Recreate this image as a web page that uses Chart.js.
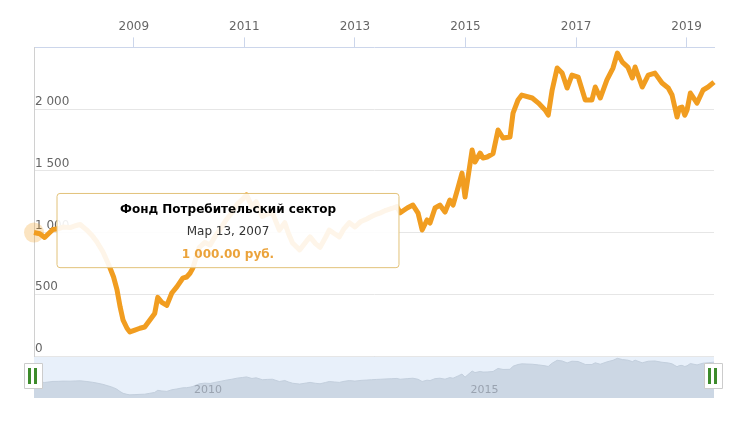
<!DOCTYPE html>
<html>
<head>
<meta charset="utf-8">
<script src="https://cdn.jsdelivr.net/npm/chart.js@4.4.1/dist/chart.umd.min.js"></script>
<style>
  html, body { margin: 0; padding: 0; background: #fff; }
  #wrap { position: relative; width: 750px; height: 425px; }
  #wrap canvas { position: absolute; left: 0; top: 0; }
</style>
</head>
<body>
<div id="wrap">
  <canvas id="nav" width="750" height="425"></canvas>
  <canvas id="main" width="750" height="425"></canvas>
</div>
<script>
const seriesName = 'Фонд Потребительский сектор';

const dates = [
  '2007-03-13', '2007-04-20', '2007-05-22', '2007-06-25', '2007-07-16', '2007-08-20', '2007-09-21', '2007-11-07',
  '2007-12-10', '2008-01-12', '2008-02-25', '2008-04-01', '2008-05-01', '2008-06-10', '2008-07-13', '2008-07-27',
  '2008-08-20', '2008-09-12', '2008-10-02', '2008-10-22', '2008-11-17', '2008-12-06', '2009-01-08', '2009-02-10',
  '2009-03-14', '2009-04-16', '2009-05-19', '2009-06-08', '2009-07-05', '2009-08-07', '2009-09-09', '2009-10-12',
  '2009-11-20', '2009-12-16', '2010-01-07', '2010-01-26', '2010-03-10', '2010-04-15', '2010-05-20', '2010-06-20',
  '2010-08-01', '2010-09-01', '2010-10-10', '2010-11-15', '2010-12-20', '2011-01-15', '2011-02-20', '2011-03-20',
  '2011-04-30', '2011-06-01', '2011-07-05', '2011-08-20', '2011-09-25', '2011-10-20', '2011-11-15', '2012-01-01',
  '2012-02-15', '2012-03-10', '2012-04-15', '2012-05-15', '2012-06-20', '2012-07-15', '2012-08-20', '2012-09-20',
  '2012-10-20', '2012-11-25', '2013-01-01', '2013-02-10', '2013-03-20', '2013-04-20', '2013-05-25', '2013-06-20',
  '2013-07-25', '2013-09-01', '2013-10-05', '2013-10-27', '2013-12-12', '2014-01-19', '2014-02-22', '2014-03-21',
  '2014-04-22', '2014-05-12', '2014-06-14', '2014-07-16', '2014-08-19', '2014-09-20', '2014-10-11', '2014-11-14',
  '2014-12-09', '2014-12-29', '2015-01-12', '2015-02-14', '2015-03-05', '2015-04-08', '2015-04-27', '2015-05-24',
  '2015-07-02', '2015-08-04', '2015-09-06', '2015-10-22', '2015-11-11', '2015-12-14', '2016-01-08', '2016-03-17',
  '2016-04-27', '2016-06-10', '2016-07-01', '2016-07-27', '2016-08-29', '2016-10-01', '2016-11-03', '2016-12-05',
  '2017-01-15', '2017-03-03', '2017-04-16', '2017-05-08', '2017-06-10', '2017-07-24', '2017-09-02', '2017-10-01',
  '2017-11-03', '2017-12-09', '2018-01-08', '2018-01-26', '2018-03-14', '2018-04-23', '2018-06-06', '2018-07-23',
  '2018-09-02', '2018-09-27', '2018-10-30', '2018-11-15', '2018-12-02', '2018-12-20', '2019-01-04', '2019-01-26',
  '2019-03-11', '2019-04-20', '2019-05-23', '2019-07-01'
];

const values = [
  1000, 990, 960, 1000, 1025, 1030, 1045, 1040,
  1055, 1065, 1020, 975, 925, 845, 755, 715,
  640, 535, 400, 290, 225, 195, 210, 225,
  235, 290, 345, 475, 435, 410, 510, 560,
  630, 640, 670, 712, 880, 920, 900, 965,
  1040, 1100, 1160, 1230, 1270, 1305, 1210, 1250,
  1130, 1150, 1160, 1020, 1080, 990, 915, 860,
  930, 965, 910, 880, 960, 1020, 990, 965,
  1030, 1080, 1045, 1090, 1110, 1130, 1150, 1160,
  1180, 1195, 1210, 1160, 1199, 1223, 1158, 1021,
  1102, 1077, 1199, 1223, 1166, 1264, 1223, 1369,
  1482, 1288, 1401, 1669, 1571, 1644, 1604, 1612,
  1640, 1831, 1766, 1774, 1968, 2074, 2114, 2090,
  2049, 1993, 1952, 2155, 2333, 2292, 2171, 2276,
  2260, 2074, 2074, 2179, 2090, 2236, 2333, 2454,
  2381, 2341, 2252, 2341, 2179, 2276, 2292, 2211,
  2171, 2114, 1936, 2010, 2017, 1950, 1993, 2130,
  2049, 2155, 2179, 2219
];

const yearTicks = [2009, 2011, 2013, 2015, 2017, 2019];
const navTicks = [2010, 2015];
const valueTicks = [0, 500, 1000, 1500, 2000];
const ruMonths = ['Янв', 'Фев', 'Мар', 'Апр', 'Май', 'Июн', 'Июл', 'Авг', 'Сен', 'Окт', 'Ноя', 'Дек'];

const lineColor = '#f19d20';
const font = 'DejaVu Sans';

function toYear(s) {
  const [y, m, d] = s.split('-').map(Number);
  const start = Date.UTC(y, 0, 1);
  const end = Date.UTC(y + 1, 0, 1);
  return y + (Date.UTC(y, m - 1, d) - start) / (end - start);
}

function spaced(n) {
  return String(n).replace(/\B(?=(\d{3})+(?!\d))/g, ' ');
}

function formatDate(s) {
  const [y, m, d] = s.split('-').map(Number);
  return ruMonths[m - 1] + ' ' + d + ', ' + y;
}

function formatMoney(v) {
  const parts = v.toFixed(2).split('.');
  return spaced(parts[0]) + '.' + parts[1] + ' руб.';
}

const points = dates.map((d, i) => ({ x: toYear(d), y: values[i] }));
const xMin = points[0].x;
const xMax = points[points.length - 1].x;

// tooltip sits to the right of the hovered point, like the original
Chart.Tooltip.positioners.beside = function (items) {
  if (!items.length) return false;
  const el = items[0].element;
  return { x: el.x + 23, y: el.y - 2 };
};

const mainChart = new Chart(document.getElementById('main'), {
  type: 'line',
  data: {
    datasets: [{
      label: seriesName,
      data: points,
      borderColor: lineColor,
      borderWidth: 5,
      borderJoinStyle: 'round',
      pointRadius: 0,
      pointHoverRadius: 10,
      pointHoverBorderWidth: 0,
      pointHoverBackgroundColor: 'rgba(241,157,32,0.28)',
      tension: 0,
      clip: false
    }]
  },
  options: {
    responsive: false,
    animation: false,
    events: [],
    layout: { padding: { left: 32, right: 36, top: 17, bottom: 69 } },
    scales: {
      x: {
        type: 'linear',
        position: 'top',
        min: xMin,
        max: xMax,
        afterBuildTicks: s => { s.ticks = yearTicks.map(v => ({ value: v })); },
        grid: { drawOnChartArea: false, drawTicks: true, tickLength: 10, color: '#ccd6eb' },
        border: { color: '#ccd6eb' },
        ticks: {
          color: '#666', padding: 3, maxRotation: 0, autoSkip: false,
          font: { family: font, size: 12 },
          callback: v => String(v)
        }
      },
      y: {
        min: 0,
        max: 2500,
        afterBuildTicks: s => { s.ticks = valueTicks.map(v => ({ value: v })); },
        grid: { color: '#e6e6e6', drawTicks: false },
        border: { color: '#d0d0d0' },
        ticks: {
          mirror: true, padding: 1, labelOffset: -7, color: '#666',
          font: { family: font, size: 12 },
          callback: v => spaced(v)
        }
      }
    },
    plugins: {
      legend: { display: false },
      tooltip: {
        position: 'beside',
        xAlign: 'left',
        yAlign: 'center',
        caretSize: 0,
        caretPadding: 0,
        backgroundColor: 'rgba(255,255,255,0.9)',
        borderColor: '#e2c27a',
        borderWidth: 1,
        cornerRadius: 3,
        displayColors: false,
        padding: { top: 9, bottom: 6, left: 63, right: 63 },
        titleAlign: 'center',
        bodyAlign: 'center',
        footerAlign: 'center',
        titleColor: '#000',
        bodyColor: '#333',
        footerColor: '#eba33b',
        titleFont: { family: font, size: 12, weight: 'bold' },
        bodyFont: { family: font, size: 12 },
        footerFont: { family: font, size: 12, weight: 'bold' },
        titleMarginBottom: 8,
        footerMarginTop: 8,
        callbacks: {
          title: items => items[0].dataset.label,
          label: ctx => formatDate(dates[ctx.dataIndex]),
          footer: items => formatMoney(values[items[0].dataIndex])
        }
      }
    }
  }
});

const active = [{ datasetIndex: 0, index: 0 }];
mainChart.setActiveElements(active);
mainChart.tooltip.setActiveElements(active, { x: 0, y: 0 });
mainChart.update();

// navigator: light panel, outline and the two grab handles
const navFrame = {
  id: 'navFrame',
  beforeDraw(chart) {
    const { ctx, chartArea: a } = chart;
    ctx.save();
    ctx.fillStyle = '#e8f0fa';
    ctx.fillRect(a.left, a.top, a.right - a.left, a.bottom - a.top);
    ctx.restore();
  },
  afterDraw(chart) {
    const { ctx, chartArea: a } = chart;
    ctx.save();
    ctx.strokeStyle = '#c8d4e3';
    ctx.lineWidth = 1;
    ctx.beginPath();
    ctx.moveTo(a.left, a.top + 0.5);
    ctx.lineTo(a.right, a.top + 0.5);
    ctx.stroke();
    [a.left, a.right].forEach(edge => {
      const cx = Math.round(edge - 1.5);
      const top = a.top + 7;
      ctx.fillStyle = '#fff';
      ctx.strokeStyle = '#cccccc';
      ctx.beginPath();
      ctx.rect(cx - 9 + 0.5, top + 0.5, 18, 25);
      ctx.fill();
      ctx.stroke();
      ctx.fillStyle = '#3d8b2b';
      ctx.fillRect(cx - 5, top + 5, 3, 16);
      ctx.fillRect(cx + 1, top + 5, 3, 16);
    });
    ctx.restore();
  }
};

new Chart(document.getElementById('nav'), {
  type: 'line',
  data: {
    datasets: [{
      data: points,
      borderColor: '#c3cfdd',
      borderWidth: 1,
      backgroundColor: '#ccd7e4',
      fill: 'start',
      pointRadius: 0,
      tension: 0
    }]
  },
  options: {
    responsive: false,
    animation: false,
    events: [],
    layout: { padding: { left: 34, right: 36, top: 356, bottom: 27 } },
    scales: {
      x: {
        type: 'linear',
        min: xMin,
        max: xMax,
        position: { y: 870 },
        afterBuildTicks: s => { s.ticks = navTicks.map(v => ({ value: v })); },
        grid: { display: false, drawTicks: false },
        border: { display: false },
        ticks: {
          align: 'start', labelOffset: 5, padding: 0, z: 1,
          color: '#9aa3b0', maxRotation: 0, autoSkip: false,
          font: { family: font, size: 11 },
          callback: v => String(v)
        }
      },
      y: { display: false, min: 0, max: 2600 }
    },
    plugins: {
      legend: { display: false },
      tooltip: { enabled: false }
    }
  },
  plugins: [navFrame]
});
</script>
</body>
</html>
